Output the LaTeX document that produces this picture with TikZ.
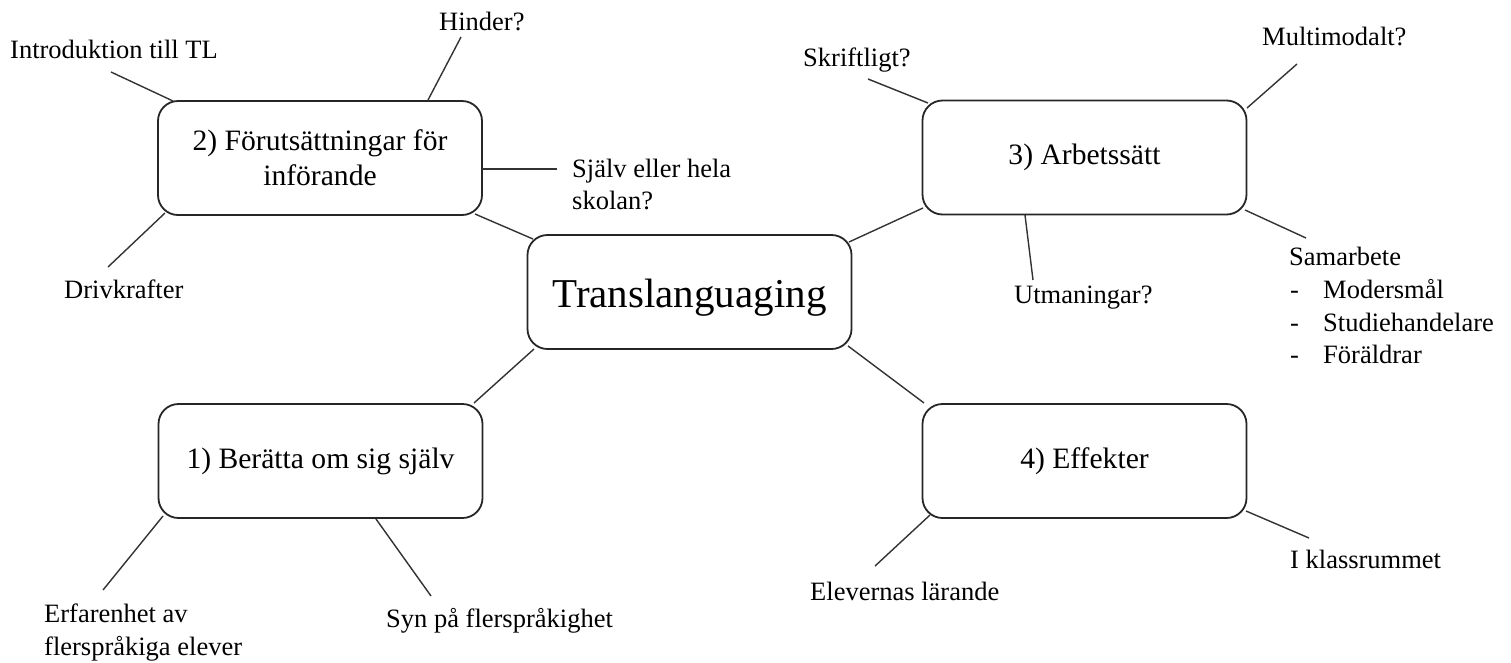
\documentclass[tikz,border=0pt]{standalone}
\usepackage{fontspec}
\setmainfont{Liberation Serif}
\begin{document}
\begin{tikzpicture}[x=1pt,y=-1pt,
  box/.style={draw=black!85, line width=1.8pt, rounded corners=20pt,
    minimum width=324pt, minimum height=114pt, inner sep=0pt, align=center,
    font=\fontsize{29.6}{35}\selectfont},
  leaf/.style={anchor=base west, inner sep=0pt, font=\fontsize{26.5}{32}\selectfont},
  con/.style={draw=black!80, line width=1.4pt}]
\useasboundingbox (0,0) rectangle (1511,662);

% main boxes
\node[box] (b2) at (320,158) {2) Förutsättningar för\\införande};
\node[box, font=\fontsize{41}{48}\selectfont, text height=30pt, text depth=0pt] (c) at (689.5,292) {Translanguaging};
\node[box] (b3) at (1084.5,157.5) {3) Arbetssätt};
\node[box] (b1) at (320.5,461) {1) Berätta om sig själv};
\node[box] (b4) at (1084.5,461) {4) Effekter};

% leaf texts
\node[leaf] (intro) at (10,58) {Introduktion till TL};
\node[leaf] (hinder) at (439,30) {Hinder?};
\node[leaf] (sjalv) at (572,177) {Själv eller hela};
\node[leaf] (skolan) at (572,209) {skolan?};
\node[leaf] (driv) at (64,298) {Drivkrafter};
\node[leaf] (skrift) at (803,66) {Skriftligt?};
\node[leaf] (multi) at (1262,45) {Multimodalt?};
\node[leaf] (utm) at (1014,303) {Utmaningar?};
\node[leaf] (sam) at (1289,265) {Samarbete};
\node[leaf] (d1) at (1290,298) {-};
\node[leaf] (mod) at (1323,298) {Modersmål};
\node[leaf] (d2) at (1290,331) {-};
\node[leaf] (stud) at (1323,331) {Studiehandelare};
\node[leaf] (d3) at (1290,363) {-};
\node[leaf] (for) at (1323,363) {Föräldrar};
\node[leaf] (erf1) at (44,622) {Erfarenhet av};
\node[leaf] (erf2) at (44,655) {flerspråkiga elever};
\node[leaf] (syn) at (386,627) {Syn på flerspråkighet};
\node[leaf] (elev) at (810,600) {Elevernas lärande};
\node[leaf] (klass) at (1290,568) {I klassrummet};

% connector end points
\coordinate (b2-intro) at (173,101);   \coordinate (intro-end) at (111,72);
\coordinate (b2-hinder) at (428,100);  \coordinate (hinder-end) at (461,37);
\coordinate (b2-sjalv) at (482,169);   \coordinate (sjalv-end) at (557,169);
\coordinate (b2-driv) at (165,213);    \coordinate (driv-end) at (108,267);
\coordinate (b2-c) at (475,214);       \coordinate (c-b2) at (533,239);
\coordinate (c-b3) at (849,242);       \coordinate (b3-c) at (923,208);
\coordinate (c-b1) at (534,349);       \coordinate (b1-c) at (474,403);
\coordinate (c-b4) at (848,346);       \coordinate (b4-c) at (924,403);
\coordinate (b3-skrift) at (928,103);  \coordinate (skrift-end) at (868,79);
\coordinate (b3-multi) at (1247,108);  \coordinate (multi-end) at (1297,64);
\coordinate (b3-utm) at (1025,215);    \coordinate (utm-end) at (1033,280);
\coordinate (b3-sam) at (1245,210);    \coordinate (sam-end) at (1306,238);
\coordinate (b1-erf) at (163,516);     \coordinate (erf-end) at (103,590);
\coordinate (b1-syn) at (376,519);     \coordinate (syn-end) at (431,596);
\coordinate (b4-elev) at (930,515);    \coordinate (elev-end) at (875,566);
\coordinate (b4-klass) at (1246,511);  \coordinate (klass-end) at (1309,538);

% connectors
\draw[con] (b2-intro) -- (intro-end);
\draw[con] (b2-hinder) -- (hinder-end);
\draw[con] (b2-sjalv) -- (sjalv-end);
\draw[con] (b2-driv) -- (driv-end);
\draw[con] (b2-c) -- (c-b2);
\draw[con] (c-b3) -- (b3-c);
\draw[con] (c-b1) -- (b1-c);
\draw[con] (c-b4) -- (b4-c);
\draw[con] (b3-skrift) -- (skrift-end);
\draw[con] (b3-multi) -- (multi-end);
\draw[con] (b3-utm) -- (utm-end);
\draw[con] (b3-sam) -- (sam-end);
\draw[con] (b1-erf) -- (erf-end);
\draw[con] (b1-syn) -- (syn-end);
\draw[con] (b4-elev) -- (elev-end);
\draw[con] (b4-klass) -- (klass-end);
\end{tikzpicture}
\end{document}
